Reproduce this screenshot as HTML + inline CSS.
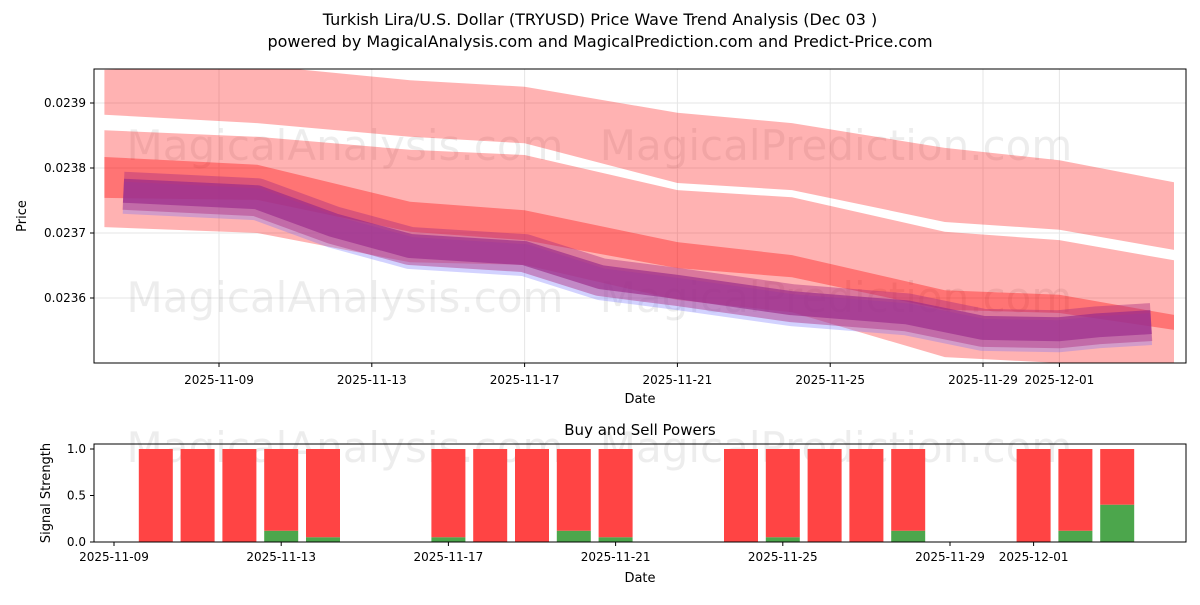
<!DOCTYPE html>
<html><head><meta charset="utf-8"><style>
body{margin:0;background:#fff;font-family:"Liberation Sans","DejaVu Sans",sans-serif;}
svg text{font-family:"DejaVu Sans","Liberation Sans",sans-serif;}
</style></head><body>
<svg id="c" width="1200" height="600" xmlns="http://www.w3.org/2000/svg">
<text x="600" y="25" text-anchor="middle" font-size="16">Turkish Lira/U.S. Dollar (TRYUSD) Price Wave Trend Analysis (Dec 03 )</text>
<text x="600" y="47" text-anchor="middle" font-size="16">powered by MagicalAnalysis.com and MagicalPrediction.com and Predict-Price.com</text>
<g id="topg"></g>
<g id="botg"></g>
</svg>
<script>
// ---- top chart data ----
const bandDays=[0,4,8,11,15,18,22,25,28];
const band1Top=[0.023951,0.023958,0.023935,0.023925,0.023885,0.023869,0.023831,0.023812,0.023778];
const band1Bot=[0.023882,0.023869,0.023848,0.023838,0.023777,0.023766,0.023717,0.023705,0.023674];
const band2Top=[0.023858,0.023848,0.023828,0.023820,0.023766,0.023755,0.023702,0.023689,0.023658];
const band2Bot=[0.023709,0.023700,0.023655,0.023651,0.023597,0.023578,0.023509,0.023500,0.023489];
const band4Top=[0.023817,0.023805,0.023748,0.023735,0.023686,0.023666,0.023612,0.023605,0.023574];
const band4Bot=[0.023754,0.023751,0.023702,0.023689,0.023646,0.023632,0.023582,0.023577,0.023551];
const lineDays=[0.5,4,6,8,11,13,15,18,21,23,25,26,27.4];
const lineVals=[0.023765,0.023755,0.023712,0.023680,0.023669,0.023632,0.023617,0.023592,0.023578,0.023554,0.023552,0.023558,0.023563];
const yTicks=[0.0236,0.0237,0.0238,0.0239];
const xTickLabels=["2025-11-09","2025-11-13","2025-11-17","2025-11-21","2025-11-25","2025-11-29","2025-12-01"];
const xTickDays=[3,7,11,15,19,23,25];
// ---- bottom chart data ----
const barDays=[1,2,3,4,5,8,9,10,11,12,15,16,17,18,19,22,23,24];
const buyVals=[0,0,0,0.12,0.05,0.05,0,0,0.12,0.05,0,0.05,0,0,0.12,0,0.12,0.4];
const bTickLabels=["2025-11-09","2025-11-13","2025-11-17","2025-11-21","2025-11-25","2025-11-29","2025-12-01"];
const bTickDays=[0,4,8,12,16,20,22];
const sigTicks=[0,0.5,1.0];

const NS="http://www.w3.org/2000/svg";
function mk(p,t,a){const e=document.createElementNS(NS,t);for(const k in a)e.setAttribute(k,a[k]);p.appendChild(e);return e;}
const topG=document.getElementById('topg'), botG=document.getElementById('botg');
const X=d=>104.4+d*38.2, Y=p=>298-(p-0.0236)*650000;
const L=94,R=1186,T=69,B=363;
const cp=mk(topG,'clipPath',{id:'cp'});
mk(cp,'rect',{x:L,y:T,width:R-L,height:B-T});
// grid
xTickDays.forEach((d,i)=>{const g=mk(topG,'line',{x1:X(d),x2:X(d),y1:T,y2:B,stroke:'#e6e6e6'});
 
 
 const t=mk(topG,'text',{x:X(d),y:B+21,'text-anchor':'middle','font-size':12});t.textContent=xTickLabels[i];
 
 
 mk(topG,'line',{x1:X(d),x2:X(d),y1:B,y2:B+4,stroke:'#000'});});
yTicks.forEach(v=>{mk(topG,'line',{x1:L,x2:R,y1:Y(v),y2:Y(v),stroke:'#e6e6e6'});
 const t=mk(topG,'text',{x:L-8,y:Y(v)+4,'text-anchor':'end','font-size':12});t.textContent=v.toFixed(4);
 
 
 mk(topG,'line',{x1:L-4,x2:L,y1:Y(v),y2:Y(v),stroke:'#000'});});
// watermarks
[[345,160,'MagicalAnalysis.com'],[836,160,'MagicalPrediction.com'],[345,312,'MagicalAnalysis.com'],[836,312,'MagicalPrediction.com']].forEach(w=>{const t=mk(topG,'text',{x:w[0],y:w[1],'text-anchor':'middle','font-size':42,fill:'#000','fill-opacity':0.07});t.textContent=w[2];
 
 });
const cg=mk(topG,'g',{'clip-path':'url(#cp)'});
function band(tp,bt,op,name){let d='M'+bandDays.map((x,i)=>X(x)+','+Y(tp[i])).join('L');
 for(let i=bandDays.length-1;i>=0;i--)d+='L'+X(bandDays[i])+','+Y(bt[i]);
 const e=mk(cg,'path',{d:d+'Z',fill:'#ff0000','fill-opacity':op});
 
 }
band(band1Top,band1Bot,0.3,'upper-band');
band(band2Top,band2Bot,0.3,'middle-band');
band(band4Top,band4Bot,0.35,'core-band');
const bl=mk(cg,'polyline',{points:lineDays.map((d,i)=>X(d)+','+(Y(lineVals[i])+7)).join(' '),fill:'none',stroke:'#6a6aff','stroke-opacity':0.3,'stroke-width':32,'stroke-linejoin':'round'});


const lp=lineDays.map((d,i)=>X(d)+','+Y(lineVals[i])).join(' ');
const pw=mk(cg,'polyline',{points:lp,fill:'none',stroke:'#b03080','stroke-opacity':0.45,'stroke-width':38,'stroke-linejoin':'round'});


const pl=mk(cg,'polyline',{points:lp,fill:'none',stroke:'#9a2a8a','stroke-opacity':0.65,'stroke-width':24,'stroke-linejoin':'round'});


mk(topG,'rect',{x:L,y:T,width:R-L,height:B-T,fill:'none',stroke:'#000'});
let tt=mk(topG,'text',{x:640,y:403,'text-anchor':'middle','font-size':13});tt.textContent='Date';


tt=mk(topG,'text',{x:26,y:216,'text-anchor':'middle','font-size':13,transform:'rotate(-90 26 216)'});tt.textContent='Price';



// bottom
const bL=94,bR=1186,bT=444,bB=542;
const BX=d=>114+d*41.8, BY=v=>542-v*93;
tt=mk(botG,'text',{x:640,y:435,'text-anchor':'middle','font-size':15});tt.textContent='Buy and Sell Powers';


[[345,462,'MagicalAnalysis.com'],[836,462,'MagicalPrediction.com']].forEach(w=>{const e=mk(botG,'text',{x:w[0],y:w[1],'text-anchor':'middle','font-size':42,'fill-opacity':0.07});e.textContent=w[2];
 
 });
barDays.forEach((d,i)=>{const r=mk(botG,'rect',{x:BX(d)-17,y:BY(1),width:34,height:BY(buyVals[i])-BY(1),fill:'#ff4444'});
 
 
 const g=mk(botG,'rect',{x:BX(d)-17,y:BY(buyVals[i]),width:34,height:BY(0)-BY(buyVals[i]),fill:'#4ca64c'});
 
 });
mk(botG,'rect',{x:bL,y:bT,width:bR-bL,height:bB-bT,fill:'none',stroke:'#000'});
bTickDays.forEach((d,i)=>{mk(botG,'line',{x1:BX(d),x2:BX(d),y1:bB,y2:bB+4,stroke:'#000'});
 const e=mk(botG,'text',{x:BX(d),y:bB+19,'text-anchor':'middle','font-size':12});e.textContent=bTickLabels[i];
 
 });
sigTicks.forEach(v=>{mk(botG,'line',{x1:bL-4,x2:bL,y1:BY(v),y2:BY(v),stroke:'#000'});
 const e=mk(botG,'text',{x:bL-8,y:BY(v)+4,'text-anchor':'end','font-size':12});e.textContent=v.toFixed(1);
 
 });
tt=mk(botG,'text',{x:640,y:582,'text-anchor':'middle','font-size':13});tt.textContent='Date';


tt=mk(botG,'text',{x:50,y:493,'text-anchor':'middle','font-size':13,transform:'rotate(-90 50 493)'});tt.textContent='Signal Strength';


</script>
</body></html>
